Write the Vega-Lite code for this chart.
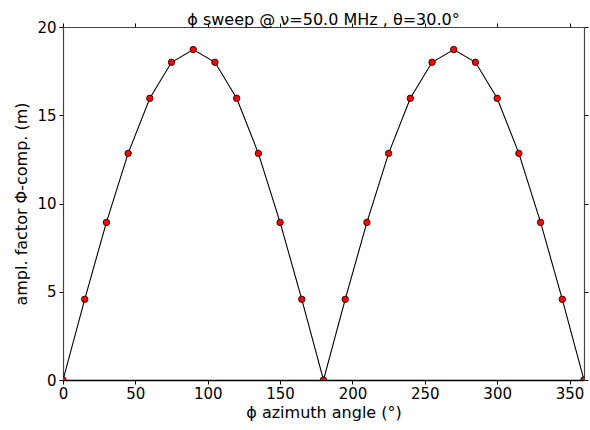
{
  "$schema": "https://vega.github.io/schema/vega-lite/v6.json",
  "width": 521,
  "height": 353,
  "autosize": {"type": "none"},
  "padding": {"left": 63, "top": 27, "right": 6, "bottom": 50},
  "background": "white",
  "title": {
    "text": "ϕ sweep @ ν=50.0 MHz , θ=30.0°",
    "font": "DejaVu Sans",
    "fontSize": 16,
    "fontWeight": "normal",
    "color": "black",
    "offset": -8,
    "anchor": "middle"
  },
  "config": {
    "view": {"stroke": null},
    "font": "DejaVu Sans",
    "axis": {
      "labelFont": "DejaVu Sans",
      "labelFontSize": 15,
      "labelColor": "black",
      "labelFlush": false,
      "labelOverlap": false,
      "titleFont": "DejaVu Sans",
      "titleFontSize": 16,
      "titleFontWeight": "normal",
      "titleColor": "black",
      "grid": false,
      "tickColor": "black",
      "tickSize": 4,
      "domainColor": "#444444",
      "domainWidth": 1.2
    }
  },
  "data": {
    "values": [
      {"phi": 0, "amp": 0},
      {"phi": 15, "amp": 4.57},
      {"phi": 30, "amp": 8.93},
      {"phi": 45, "amp": 12.84},
      {"phi": 60, "amp": 15.96},
      {"phi": 75, "amp": 18.0},
      {"phi": 90, "amp": 18.72},
      {"phi": 105, "amp": 18.0},
      {"phi": 120, "amp": 15.96},
      {"phi": 135, "amp": 12.84},
      {"phi": 150, "amp": 8.93},
      {"phi": 165, "amp": 4.57},
      {"phi": 180, "amp": 0},
      {"phi": 195, "amp": 4.57},
      {"phi": 210, "amp": 8.93},
      {"phi": 225, "amp": 12.84},
      {"phi": 240, "amp": 15.96},
      {"phi": 255, "amp": 18.0},
      {"phi": 270, "amp": 18.72},
      {"phi": 285, "amp": 18.0},
      {"phi": 300, "amp": 15.96},
      {"phi": 315, "amp": 12.84},
      {"phi": 330, "amp": 8.93},
      {"phi": 345, "amp": 4.57},
      {"phi": 360, "amp": 0}
    ]
  },
  "layer": [
    {
      "mark": {"type": "line", "color": "black", "strokeWidth": 1.1, "clip": true},
      "encoding": {
        "x": {
          "field": "phi", "type": "quantitative",
          "scale": {"domain": [0, 360], "nice": false, "zero": false},
          "axis": {
            "orient": "bottom",
            "title": "ϕ azimuth angle (°)",
            "values": [0, 50, 100, 150, 200, 250, 300, 350],
            "labelPadding": 2,
            "titlePadding": 3,
            "domainColor": "black",
            "domainWidth": 1.5
          }
        },
        "y": {
          "field": "amp", "type": "quantitative",
          "scale": {"domain": [0, 20], "nice": false},
          "axis": {
            "orient": "left",
            "title": "ampl. factor Φ-comp. (m)",
            "values": [0, 5, 10, 15, 20],
            "labelPadding": 3,
            "titlePadding": 7
          }
        }
      }
    },
    {
      "mark": {"type": "point", "filled": true, "fill": "#ff0000", "stroke": "black", "strokeWidth": 0.8, "size": 42, "opacity": 1, "clip": true},
      "encoding": {
        "x": {
          "field": "phi", "type": "quantitative",
          "scale": {"domain": [0, 360], "nice": false, "zero": false},
          "axis": {
            "orient": "top",
            "title": null,
            "labels": false,
            "values": [0, 50, 100, 150, 200, 250, 300, 350]
          }
        },
        "y": {
          "field": "amp", "type": "quantitative",
          "scale": {"domain": [0, 20], "nice": false},
          "axis": {
            "orient": "right",
            "title": null,
            "labels": false,
            "values": [0, 5, 10, 15, 20]
          }
        }
      }
    }
  ],
  "resolve": {"axis": {"x": "independent", "y": "independent"}}
}
